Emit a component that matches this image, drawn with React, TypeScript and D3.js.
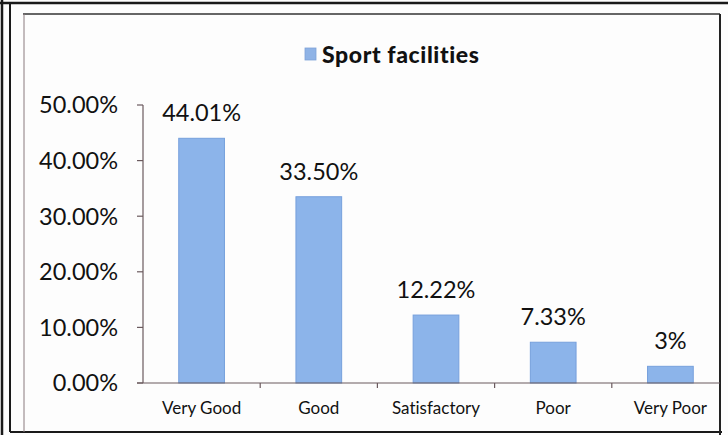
import React from "react";
import * as d3 from "d3";

const categories = ["Very Good", "Good", "Satisfactory", "Poor", "Very Poor"];
const values = [44.01, 33.5, 12.22, 7.33, 3];
const valueLabels = ["44.01%", "33.50%", "12.22%", "7.33%", "3%"];
const yTicks = [0, 10, 20, 30, 40, 50];
const seriesName = "Sport facilities";

const W = 728;
const H = 435;
const FONT = "Lato, 'Open Sans', sans-serif";

export default function App() {
  const x = d3.scaleBand<string>().domain(categories).range([143, 729]).paddingInner(0.61).paddingOuter(0.305);
  const y = d3.scaleLinear().domain([0, 50]).range([383, 105]);
  const axisColor = "#6b5a5e";
  const bounds = categories.map((_, i) => 143 + i * x.step());

  return (
    <svg width={W} height={H} style={{ position: "absolute", left: 0, top: 0, background: "#fff", fontVariantLigatures: "none" }}>
      <rect x={0} y={0} width={W} height={H} fill="#fdfdfd" />
      {/* frames */}
      <line x1={0} x2={W} y1={3} y2={3} stroke="#1a1a1a" strokeWidth={2.5} />
      <line x1={2} x2={2} y1={0} y2={H} stroke="#1a1a1a" strokeWidth={2.5} />
      <line x1={10} x2={10} y1={3} y2={432} stroke="#1a1a1a" strokeWidth={2} />
      <line x1={10} x2={722} y1={432} y2={432} stroke="#1a1a1a" strokeWidth={2} />
      <line x1={23} x2={720} y1={14} y2={14} stroke="#333" strokeWidth={1.5} />
      <line x1={24} x2={24} y1={14} y2={432} stroke="#8a7a7e" strokeWidth={1} />
      <line x1={720} x2={720} y1={14} y2={H} stroke="#222" strokeWidth={2} />

      {/* legend */}
      <rect x={305} y={48} width={11} height={12} fill="#8fb3e6" stroke="#7ea2d8" strokeWidth={0.8} />
      <text x={322} y={63} fontFamily={FONT} fontWeight="900" fontSize={23} letterSpacing={0.6} fill="#111" style={{ fontVariantLigatures: "none" }}>
        {seriesName}
      </text>

      {/* y axis */}
      <line x1={143} x2={143} y1={y(50)} y2={y(0)} stroke={axisColor} strokeWidth={1.2} />
      {yTicks.map((t) => (
        <g key={t}>
          <line x1={137} x2={143} y1={y(t)} y2={y(t)} stroke={axisColor} strokeWidth={1.2} />
          <text x={118} y={y(t)} dy="0.36em" textAnchor="end" fontFamily={FONT} fontSize={23.5} fill="#111">
            {t.toFixed(2)}%
          </text>
        </g>
      ))}

      {/* bars */}
      {categories.map((c, i) => (
        <g key={c}>
          <rect
            x={x(c)}
            y={y(values[i])}
            width={x.bandwidth()}
            height={y(0) - y(values[i])}
            fill="#8cb4ea"
            stroke="#76a0dc"
            strokeWidth={1}
          />
          <text
            x={(x(c) as number) + x.bandwidth() / 2}
            y={y(values[i]) - 17}
            textAnchor="middle"
            fontFamily={FONT}
            fontSize={23.5}
            fill="#111"
          >
            {valueLabels[i]}
          </text>
          <text
            x={(x(c) as number) + x.bandwidth() / 2}
            y={414}
            textAnchor="middle"
            fontFamily={FONT}
            fontSize={17}
            fill="#111"
          >
            {c}
          </text>
        </g>
      ))}

      {/* x axis */}
      <line x1={137} x2={720} y1={y(0)} y2={y(0)} stroke={axisColor} strokeWidth={1.2} />
      {bounds.slice(1).map((b, i) => (
        <line key={i} x1={b} x2={b} y1={y(0)} y2={y(0) + 5} stroke={axisColor} strokeWidth={1.2} />
      ))}
    </svg>
  );
}
